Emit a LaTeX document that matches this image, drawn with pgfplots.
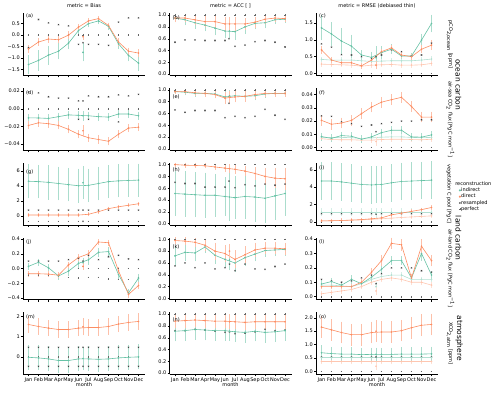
\documentclass[border=0pt]{standalone}
\usepackage{pgfplots}
\pgfplotsset{compat=1.18}
\usepgfplotslibrary{groupplots}
\usetikzlibrary{calc}
\usepackage{fontspec}
\setmainfont{DejaVu Sans}
\newcommand\sm{\fontsize{5}{6}\selectfont}
\definecolor{cind}{HTML}{66C2A5}
\definecolor{cdir}{HTML}{FC8D62}

% one series = wide pale error bars + thin line with dots
\newcommand\ser[4]{%
  \addplot[forget plot, only marks, mark=*, mark size=0pt, color=#2, line width=1.7pt,
    error bars/y dir=both, error bars/y explicit,
    error bars/error mark options={mark size=1.4pt}] coordinates {#4};
  \addplot[forget plot, color=#1, line width=0.6pt, mark=*, mark size=0.5pt, #3] coordinates {#4};}
\newcommand\sind[1]{\ser{cind}{cind!55!white}{}{#1}}
\newcommand\sdir[1]{\ser{cdir}{cdir!55!white}{}{#1}}
\newcommand\sindt[1]{\ser{cind!50!white}{cind!28!white}{}{#1}}
\newcommand\sdirt[1]{\ser{cdir!50!white}{cdir!28!white}{}{#1}}
\newcommand\xind[1]{\ser{cind}{cind!55!white}{only marks}{#1}}
\newcommand\xdir[1]{\ser{cdir}{cdir!55!white}{only marks}{#1}}
\newcommand\xindt[1]{\ser{cind!50!white}{cind!28!white}{only marks}{#1}}
\newcommand\xdirt[1]{\ser{cdir!50!white}{cdir!28!white}{only marks}{#1}}

\pgfplotsset{
  every axis/.append style={font=\sm},
  rres/.style={only marks, mark=x, mark size=0.9pt, color=black!75, line width=0.4pt},
  rperf/.style={only marks, mark=+, mark size=0.8pt, color=black!60, line width=0.35pt},
  acc/.style={ymin=-0.02, ymax=1.03, ytick={0,0.2,0.4,0.6,0.8,1},
    yticklabels={0.0,0.2,0.4,0.6,0.8,1.0}},
}

\begin{document}
\begin{tikzpicture}
\begin{groupplot}[
  group style={group size=3 by 5, horizontal sep=24.5pt, vertical sep=12.75pt,
    xticklabels at=edge bottom, xlabels at=edge bottom},
  width=122pt, height=62pt, scale only axis,
  xmin=0.45, xmax=12.65,
  xtick={1,...,12}, xticklabels={Jan,Feb,Mar,Apr,May,Jun,Jul,Aug,Sep,Oct,Nov,Dec},
  xlabel={month},
  scaled ticks=false,
  axis x line*=bottom, axis y line*=left,
  axis line style={line width=0.45pt, -},
  tick align=outside, major tick length=2pt, tick style={line width=0.4pt, black},
  tick label style={font=\sm},
  /pgf/number format/assume math mode=true,
  xticklabel style={inner sep=1pt}, yticklabel style={inner sep=1pt},
  xlabel style={font=\sm, inner sep=0pt, yshift=1pt},
  title style={font=\sm, yshift=-4pt},
  clip=false,
]
% ---------- row 1: pCO2 ocean
\nextgroupplot[title={metric = Bias}, ymin=-1.75, ymax=0.95,
  ytick={-1.5,-1,-0.5,0,0.5}, yticklabels={−1.5,−1.0,−0.5,0.0,0.5}]
\addplot[rperf] coordinates {(1,0)(2,0)(3,0)(4,0)(5,0)(6,0)(6.45,0)(7,0)(8,0)(9,0)(10,0)(11,0)(12,0)};
\addplot[rres] coordinates {(1,-0.55)(2,0.68)(3,0.53)(4,0.46)(5,0.4)(6,-0.4)(6.45,-0.33)(7,-0.4)(8,-0.4)(9,-0.45)(10,0.57)(11,0.75)(12,0.75)};
\sind{(1,-1.28)+-(0,0.35) (2,-1.1)+-(0,0.38) (3,-0.87)+-(0,0.35) (4,-0.7)+-(0,0.3) (5,-0.35)+-(0,0.2) (6,0.2)+-(0,0.15) (7,0.5)+-(0,0.1) (8,0.62)+-(0,0.08) (9,0.38)+-(0,0.08) (10,-0.38)+-(0,0.15) (11,-0.88)+-(0,0.2) (12,-1.22)+-(0,0.3)}
\xind{(6.45,-0.75)+-(0,0.33)}
\sdir{(1,-0.6)+-(0,0.1) (2,-0.3)+-(0,0.1) (3,-0.17)+-(0,0.1) (4,-0.2)+-(0,0.1) (5,0.0)+-(0,0.1) (6,0.35)+-(0,0.08) (7,0.62)+-(0,0.06) (8,0.72)+-(0,0.06) (9,0.42)+-(0,0.06) (10,-0.3)+-(0,0.1) (11,-0.7)+-(0,0.1) (12,-0.78)+-(0,0.1)}
\xdir{(6.45,-0.07)+-(0,0.08)}
\node[anchor=north west, inner sep=0.5pt] at (rel axis cs:0.02,1) {(a)};

\nextgroupplot[title={metric = ACC [ ]}, acc]
\addplot[rperf] coordinates {(1,1)(2,1)(3,1)(4,1)(5,1)(6,1)(7,1)(8,1)(9,1)(10,1)(11,1)(12,1)};
\addplot[rres] coordinates {(1,0.54)(2,0.58)(3,0.58)(4,0.57)(5,0.57)(6,0.57)(6.4,0.6)(7,0.47)(8,0.49)(9,0.55)(10,0.57)(11,0.54)(12,0.46)};
\sind{(1,0.95)+-(0,0.05) (2,0.92)+-(0,0.07) (3,0.87)+-(0,0.08) (4,0.83)+-(0,0.08) (5,0.78)+-(0,0.1) (6,0.73)+-(0,0.1) (7,0.72)+-(0,0.12) (8,0.8)+-(0,0.1) (9,0.86)+-(0,0.08) (10,0.87)+-(0,0.07) (11,0.92)+-(0,0.05) (12,0.93)+-(0,0.04)}
\xind{(6.45,0.73)+-(0,0.1)}
\sdir{(1,0.95)+-(0,0.04) (2,0.95)+-(0,0.05) (3,0.92)+-(0,0.06) (4,0.89)+-(0,0.07) (5,0.89)+-(0,0.08) (6,0.85)+-(0,0.1) (7,0.85)+-(0,0.1) (8,0.85)+-(0,0.08) (9,0.88)+-(0,0.07) (10,0.93)+-(0,0.05) (11,0.95)+-(0,0.04) (12,0.94)+-(0,0.03)}
\xdir{(6.45,0.85)+-(0,0.09)}
\node[anchor=north west, inner sep=0.5pt] at (rel axis cs:0.02,0.97) {(b)};

\nextgroupplot[title={metric = RMSE (debiased thin)}, ymin=-0.05, ymax=1.78,
  ytick={0,0.5,1,1.5}, yticklabels={0.0,0.5,1.0,1.5}]
\addplot[rperf] coordinates {(1,0)(2,0)(3,0)(4,0)(5,0)(6,0)(7,0)(8,0)(9,0)(10,0)(11,0)(12,0)};
\addplot[rres] coordinates {(1,0.88)(2,0.78)(3,0.56)(4,0.55)(5,0.5)(6,0.45)(6.45,0.5)(7,0.55)(8,0.7)(9,0.65)(10,0.52)(11,0.55)(12,0.9)};
\sindt{(1,0.42)+-(0,0.04) (2,0.4)+-(0,0.04) (3,0.4)+-(0,0.04) (4,0.4)+-(0,0.04) (5,0.38)+-(0,0.04) (6,0.36)+-(0,0.04) (7,0.37)+-(0,0.04) (8,0.38)+-(0,0.04) (9,0.38)+-(0,0.04) (10,0.38)+-(0,0.04) (11,0.4)+-(0,0.04) (12,0.43)+-(0,0.04)}
\sdirt{(1,0.28)+-(0,0.03) (2,0.27)+-(0,0.03) (3,0.26)+-(0,0.03) (4,0.25)+-(0,0.03) (5,0.22)+-(0,0.03) (6,0.25)+-(0,0.03) (7,0.26)+-(0,0.03) (8,0.27)+-(0,0.03) (9,0.25)+-(0,0.03) (10,0.25)+-(0,0.03) (11,0.26)+-(0,0.03) (12,0.3)+-(0,0.03)}
\sind{(1,1.35)+-(0,0.33) (2,1.17)+-(0,0.3) (3,0.96)+-(0,0.35) (4,0.81)+-(0,0.3) (5,0.55)+-(0,0.1) (6,0.48)+-(0,0.12) (7,0.62)+-(0,0.15) (8,0.72)+-(0,0.1) (9,0.52)+-(0,0.05) (10,0.52)+-(0,0.05) (11,0.99)+-(0,0.15) (12,1.48)+-(0,0.22)}
\xind{(6.45,0.47)+-(0,0.3)}
\sdir{(1,0.7)+-(0,0.08) (2,0.4)+-(0,0.05) (3,0.32)+-(0,0.04) (4,0.32)+-(0,0.04) (5,0.23)+-(0,0.04) (6,0.4)+-(0,0.05) (7,0.65)+-(0,0.05) (8,0.76)+-(0,0.05) (9,0.55)+-(0,0.05) (10,0.5)+-(0,0.05) (11,0.72)+-(0,0.07) (12,0.84)+-(0,0.1)}
\xdir{(6.45,0.25)+-(0,0.07)}
\node[anchor=north west, inner sep=0.5pt] at (rel axis cs:0.02,1) {(c)};
\node[rotate=-90, anchor=south] at ([xshift=5pt]rel axis cs:1,0.5) {pCO\textsubscript{2,ocean} [ppm]};

% ---------- row 2: air-sea flux
\nextgroupplot[ymin=-0.047, ymax=0.0235,
  ytick={-0.04,-0.02,0,0.02}, yticklabels={−0.04,−0.02,0.00,0.02}]
\addplot[rperf] coordinates {(1,0)(2,0)(3,0)(4,0)(5,0)(6,0)(7,0)(8,0)(9,0)(10,0)(11,0)(12,0)};
\addplot[rres] coordinates {(1,0.019)(2,0.018)(3,0.0136)(4,0.012)(5,0.012)(6,0.009)(6.45,0.009)(7,0.0146)(8,0.0136)(9,0.0136)(10,0.0157)(11,0.0146)(12,0.0164)(6,-0.012)(7,-0.012)(10,-0.015)};
\sind{(1,-0.0104)+-(0,0.003) (2,-0.0105)+-(0,0.003) (3,-0.011)+-(0,0.003) (4,-0.009)+-(0,0.003) (5,-0.007)+-(0,0.003) (6,-0.0075)+-(0,0.003) (7,-0.008)+-(0,0.003) (8,-0.009)+-(0,0.003) (9,-0.0095)+-(0,0.003) (10,-0.006)+-(0,0.003) (11,-0.006)+-(0,0.003) (12,-0.008)+-(0,0.003)}
\xind{(6.45,-0.008)+-(0,0.004)}
\sdir{(1,-0.019)+-(0,0.003) (2,-0.016)+-(0,0.003) (3,-0.017)+-(0,0.003) (4,-0.019)+-(0,0.003) (5,-0.0235)+-(0,0.003) (6,-0.029)+-(0,0.003) (7,-0.033)+-(0,0.003) (8,-0.035)+-(0,0.003) (9,-0.037)+-(0,0.003) (10,-0.029)+-(0,0.003) (11,-0.022)+-(0,0.003) (12,-0.021)+-(0,0.003)}
\xdir{(6.45,-0.025)+-(0,0.005)}
\node[anchor=north west, inner sep=0.5pt] at (rel axis cs:0.02,0.97) {(d)};

\nextgroupplot[acc]
\addplot[rperf] coordinates {(1,1)(2,1)(3,1)(4,1)(5,1)(6,1)(7,1)(8,1)(9,1)(10,1)(11,1)(12,1)};
\addplot[rres] coordinates {(1,0.66)(2,0.62)(3,0.65)(4,0.65)(5,0.65)(6,0.53)(6.4,0.77)(7,0.55)(8,0.53)(9,0.55)(10,0.67)(11,0.57)(12,0.5)};
\sind{(1,0.97)+-(0,0.02) (2,0.96)+-(0,0.03) (3,0.94)+-(0,0.03) (4,0.94)+-(0,0.03) (5,0.93)+-(0,0.04) (6,0.88)+-(0,0.07) (7,0.9)+-(0,0.06) (8,0.89)+-(0,0.06) (9,0.9)+-(0,0.05) (10,0.93)+-(0,0.04) (11,0.94)+-(0,0.03) (12,0.94)+-(0,0.03)}
\xind{(6.45,0.9)+-(0,0.07)}
\sdir{(1,0.97)+-(0,0.02) (2,0.97)+-(0,0.02) (3,0.95)+-(0,0.03) (4,0.94)+-(0,0.03) (5,0.92)+-(0,0.04) (6,0.86)+-(0,0.08) (7,0.88)+-(0,0.07) (8,0.89)+-(0,0.07) (9,0.92)+-(0,0.05) (10,0.94)+-(0,0.04) (11,0.94)+-(0,0.03) (12,0.94)+-(0,0.03)}
\xdir{(6.45,0.88)+-(0,0.08)}
\node[anchor=north west, inner sep=0.5pt] at (rel axis cs:0.02,0.9) {(e)};

\nextgroupplot[ymin=-0.002, ymax=0.045,
  ytick={0,0.01,0.02,0.03,0.04}, yticklabels={0.00,0.01,0.02,0.03,0.04}]
\addplot[rperf] coordinates {(1,0)(2,0)(3,0)(4,0)(5,0)(6,0)(7,0)(8,0)(9,0)(10,0)(11,0)(12,0)};
\addplot[rres] coordinates {(1,0.0239)(2,0.0236)(3,0.0194)(4,0.018)(5,0.016)(6,0.017)(6.45,0.012)(7,0.018)(8,0.019)(9,0.02)(10,0.02)(11,0.021)(12,0.021)};
\sindt{(1,0.0078)+-(0,0.0015) (2,0.0075)+-(0,0.0015) (3,0.0076)+-(0,0.0015) (4,0.0074)+-(0,0.0015) (5,0.0068)+-(0,0.0015) (6,0.0072)+-(0,0.0015) (7,0.0078)+-(0,0.0015) (8,0.008)+-(0,0.0015) (9,0.008)+-(0,0.0015) (10,0.0076)+-(0,0.0015) (11,0.0074)+-(0,0.0015) (12,0.0076)+-(0,0.0015)}
\sdirt{(1,0.0066)+-(0,0.001) (2,0.006)+-(0,0.001) (3,0.0058)+-(0,0.001) (4,0.0058)+-(0,0.001) (5,0.0055)+-(0,0.001) (6,0.0055)+-(0,0.001) (7,0.006)+-(0,0.001) (8,0.0062)+-(0,0.001) (9,0.0062)+-(0,0.001) (10,0.006)+-(0,0.001) (11,0.0058)+-(0,0.001) (12,0.0062)+-(0,0.001)}
\xdirt{(6.45,0.0045)+-(0,0.002)}
\sind{(1,0.0082)+-(0,0.002) (2,0.0069)+-(0,0.002) (3,0.009)+-(0,0.002) (4,0.0085)+-(0,0.002) (5,0.0062)+-(0,0.002) (6,0.008)+-(0,0.002) (7,0.0112)+-(0,0.002) (8,0.013)+-(0,0.002) (9,0.013)+-(0,0.002) (10,0.008)+-(0,0.002) (11,0.0078)+-(0,0.002) (12,0.0095)+-(0,0.002)}
\sdir{(1,0.0205)+-(0,0.003) (2,0.0176)+-(0,0.003) (3,0.0185)+-(0,0.003) (4,0.0205)+-(0,0.003) (5,0.0256)+-(0,0.003) (6,0.0306)+-(0,0.003) (7,0.0343)+-(0,0.003) (8,0.0362)+-(0,0.003) (9,0.038)+-(0,0.003) (10,0.031)+-(0,0.003) (11,0.023)+-(0,0.003) (12,0.023)+-(0,0.003)}
\node[anchor=north west, inner sep=0.5pt] at (rel axis cs:0.02,0.97) {(f)};
\node[rotate=-90, anchor=south] at ([xshift=5pt]rel axis cs:1,0.5) {air-sea CO\textsubscript{2} flux [PgC mon\textsuperscript{−1}]};

% ---------- row 3: vegetation C pool
\nextgroupplot[ymin=-1.2, ymax=7.05, ytick={0,2,4,6}, yticklabels={0,2,4,6}]
\addplot[rperf] coordinates {(1,-0.75)(2,-0.75)(3,-0.75)(4,-0.75)(5,-0.75)(6,-0.75)(7,-0.75)(8,-0.75)(9,-0.75)(10,-0.75)(11,-0.75)(12,-0.75)};
\addplot[rres] coordinates {(1,0.75)(2,0.75)(3,0.75)(4,0.75)(5,0.75)(6,0.75)(6.45,0.75)(6.45,-0.75)(7,0.75)(8,0.75)(9,0.75)(10,0.75)(11,0.75)(12,0.75)};
\sind{(1,4.6)+-(0,2.1) (2,4.55)+-(0,2.05) (3,4.45)+-(0,2.1) (4,4.3)+-(0,2.05) (5,4.15)+-(0,2.05) (6,4.0)+-(0,2.1) (7,4.05)+-(0,2.05) (8,4.3)+-(0,2.05) (9,4.55)+-(0,2.0) (10,4.65)+-(0,2.0) (11,4.7)+-(0,2.0) (12,4.75)+-(0,2.0)}
\xind{(6.45,4.4)+-(0,2.0)}
\sdir{(1,0.1)+-(0,0.08) (2,0.1)+-(0,0.08) (3,0.1)+-(0,0.08) (4,0.1)+-(0,0.08) (5,0.1)+-(0,0.08) (6,0.1)+-(0,0.08) (7,0.2)+-(0,0.08) (8,0.55)+-(0,0.08) (9,0.95)+-(0,0.08) (10,1.2)+-(0,0.08) (11,1.4)+-(0,0.08) (12,1.6)+-(0,0.08)}
\node[anchor=north west, inner sep=0.5pt] at (rel axis cs:0.02,0.9) {(g)};

\nextgroupplot[acc]
\addplot[rperf] coordinates {(1,1)(2,1)(3,1)(4,1)(5,1)(6,1)(7,1)(8,1)(9,1)(10,1)(11,1)(12,1)};
\addplot[rres] coordinates {(1,0.7)(2,0.68)(3,0.68)(4,0.62)(5,0.62)(6,0.62)(6.4,0.72)(7,0.61)(8,0.66)(9,0.64)(10,0.67)(11,0.65)(12,0.67)};
\sind{(1,0.51)+-(0,0.36) (2,0.5)+-(0,0.36) (3,0.49)+-(0,0.36) (4,0.48)+-(0,0.36) (5,0.48)+-(0,0.34) (6,0.46)+-(0,0.3) (7,0.44)+-(0,0.34) (8,0.46)+-(0,0.36) (9,0.45)+-(0,0.4) (10,0.43)+-(0,0.4) (11,0.47)+-(0,0.38) (12,0.51)+-(0,0.35)}
\xind{(6.45,0.45)+-(0,0.38)}
\sdir{(1,1.0)+-(0,0.01) (2,0.99)+-(0,0.02) (3,0.985)+-(0,0.02) (4,0.98)+-(0,0.02) (5,0.96)+-(0,0.03) (6,0.94)+-(0,0.04) (7,0.92)+-(0,0.05) (8,0.89)+-(0,0.06) (9,0.85)+-(0,0.08) (10,0.8)+-(0,0.12) (11,0.77)+-(0,0.15) (12,0.76)+-(0,0.16)}
\xdir{(6.45,0.93)+-(0,0.05)}
\node[anchor=north west, inner sep=0.5pt] at (rel axis cs:0.02,0.93) {(h)};

\nextgroupplot[ymin=-0.35, ymax=6.8, ytick={0,2,4,6}, yticklabels={0,2,4,6},
  legend style={at={(rel axis cs:1.17,0.61)}, anchor=north west, draw=none, fill=none,
    font=\sm, inner sep=0pt, row sep=0pt, nodes={inner sep=0.5pt},
    /tikz/every even column/.append style={column sep=1.5pt}},
  legend cell align=left,
  legend image code/.code={\draw[#1] plot coordinates {(0.05cm,0cm)};}]
\addlegendimage{only marks, mark=*, mark size=0.8pt, color=cind}\addlegendentry{indirect}
\addlegendimage{only marks, mark=*, mark size=0.8pt, color=cdir}\addlegendentry{direct}
\addlegendimage{only marks, mark=x, mark size=1.0pt, color=black!75}\addlegendentry{resampled}
\addlegendimage{only marks, mark=+, mark size=0.9pt, color=black!60}\addlegendentry{perfect}
\addplot[rperf] coordinates {(1,0)(2,0)(3,0)(4,0)(5,0)(6,0)(7,0)(8,0)(9,0)(10,0)(11,0)(12,0)};
\addplot[rres] coordinates {(1,0.95)(2,0.95)(3,0.95)(4,0.95)(5,0.95)(6,0.95)(6.45,0.9)(7,0.95)(8,0.95)(9,0.95)(10,0.95)(11,0.95)(12,0.95)};
\sindt{(1,1.1)+-(0,0.3) (2,1.1)+-(0,0.3) (3,1.1)+-(0,0.3) (4,1.1)+-(0,0.3) (5,1.1)+-(0,0.3) (6,1.1)+-(0,0.3) (7,1.1)+-(0,0.3) (8,1.1)+-(0,0.3) (9,1.1)+-(0,0.3) (10,1.1)+-(0,0.3) (11,1.1)+-(0,0.3) (12,1.1)+-(0,0.3)}
\xindt{(6.45,1.0)+-(0,0.4)}
\sdirt{(1,0.1)+-(0,0.05) (2,0.12)+-(0,0.05) (3,0.15)+-(0,0.05) (4,0.18)+-(0,0.05) (5,0.22)+-(0,0.05) (6,0.28)+-(0,0.05) (7,0.35)+-(0,0.05) (8,0.42)+-(0,0.05) (9,0.5)+-(0,0.05) (10,0.56)+-(0,0.05) (11,0.62)+-(0,0.05) (12,0.68)+-(0,0.05)}
\sind{(1,4.7)+-(0,2.0) (2,4.7)+-(0,2.0) (3,4.6)+-(0,2.0) (4,4.45)+-(0,2.0) (5,4.3)+-(0,2.0) (6,4.25)+-(0,2.0) (7,4.3)+-(0,2.0) (8,4.5)+-(0,2.0) (9,4.65)+-(0,2.0) (10,4.7)+-(0,2.0) (11,4.75)+-(0,2.0) (12,4.8)+-(0,2.0)}
\xind{(6.45,4.3)+-(0,2.0)}
\sdir{(1,0.1)+-(0,0.08) (2,0.12)+-(0,0.08) (3,0.15)+-(0,0.08) (4,0.2)+-(0,0.08) (5,0.25)+-(0,0.08) (6,0.35)+-(0,0.08) (7,0.45)+-(0,0.08) (8,0.8)+-(0,0.08) (9,1.0)+-(0,0.08) (10,1.2)+-(0,0.08) (11,1.4)+-(0,0.08) (12,1.65)+-(0,0.08)}
\node[anchor=north west, inner sep=0.5pt] at (rel axis cs:0.02,0.97) {(i)};
\node[rotate=-90, anchor=south] at ([xshift=5pt]rel axis cs:1,0.5) {vegetation C pool [PgC]};
\node[anchor=west, inner sep=0pt] at (rel axis cs:1.14,0.66) {reconstruction};

% ---------- row 4: air-land flux
\nextgroupplot[ymin=-0.42, ymax=0.42, ytick={-0.4,-0.2,0,0.2,0.4},
  yticklabels={−0.4,−0.2,0.0,0.2,0.4}]
\addplot[rperf] coordinates {(1,-0.09)(2,-0.09)(3,-0.09)(4,-0.1)(5,-0.12)(6,-0.13)(7,-0.12)(8,-0.12)(9,-0.14)(10,-0.15)(11,-0.15)(12,-0.12)(6,0)(7,0)(8,0)(9,0)(10,0)(11,0)(12,0)};
\addplot[rres] coordinates {(1,0.1)(2,0.1)(3,0.1)(4,0.1)(5,0.12)(6,0.14)(6.45,0.1)(7,0.18)(8,0.12)(9,0.16)(10,0.18)(11,0.13)(12,0.12)};
\sind{(1,0.03)+-(0,0.03) (2,0.085)+-(0,0.03) (3,0.01)+-(0,0.03) (4,-0.1)+-(0,0.03) (5,-0.035)+-(0,0.04) (6,0.07)+-(0,0.04) (7,0.12)+-(0,0.05) (8,0.22)+-(0,0.04) (9,0.23)+-(0,0.04) (10,-0.08)+-(0,0.04) (11,-0.33)+-(0,0.03) (12,-0.13)+-(0,0.04)}
\xind{(6.45,0.08)+-(0,0.05)}
\sdir{(1,-0.07)+-(0,0.02) (2,-0.07)+-(0,0.02) (3,-0.075)+-(0,0.02) (4,-0.09)+-(0,0.02) (5,0.05)+-(0,0.02) (6,0.15)+-(0,0.03) (7,0.2)+-(0,0.03) (8,0.36)+-(0,0.02) (9,0.35)+-(0,0.02) (10,-0.03)+-(0,0.03) (11,-0.35)+-(0,0.03) (12,-0.23)+-(0,0.03)}
\xdir{(6.45,0.03)+-(0,0.03)}
\node[anchor=north west, inner sep=0.5pt] at (rel axis cs:0.02,0.97) {(j)};

\nextgroupplot[acc]
\addplot[rperf] coordinates {(1,1)(2,1)(3,1)(4,1)(5,1)(6,1)(7,1)(8,1)(9,1)(10,1)(11,1)(12,1)};
\addplot[rres] coordinates {(1,0.55)(2,0.6)(3,0.52)(4,0.6)(5,0.5)(6,0.52)(6.45,0.58)(7,0.47)(8,0.58)(9,0.5)(10,0.49)(11,0.54)(12,0.58)};
\sind{(1,0.72)+-(0,0.15) (2,0.78)+-(0,0.12) (3,0.77)+-(0,0.12) (4,0.87)+-(0,0.08) (5,0.73)+-(0,0.12) (6,0.66)+-(0,0.12) (7,0.6)+-(0,0.13) (8,0.69)+-(0,0.12) (9,0.75)+-(0,0.1) (10,0.81)+-(0,0.08) (11,0.82)+-(0,0.08) (12,0.83)+-(0,0.08)}
\xind{(6.45,0.65)+-(0,0.15)}
\sdir{(1,0.98)+-(0,0.03) (2,0.97)+-(0,0.04) (3,0.95)+-(0,0.05) (4,0.9)+-(0,0.08) (5,0.8)+-(0,0.12) (6,0.76)+-(0,0.12) (7,0.66)+-(0,0.13) (8,0.74)+-(0,0.12) (9,0.82)+-(0,0.1) (10,0.85)+-(0,0.08) (11,0.85)+-(0,0.08) (12,0.84)+-(0,0.08)}
\xdir{(6.45,0.8)+-(0,0.1)}
\node[anchor=north west, inner sep=0.5pt] at (rel axis cs:0.02,0.9) {(k)};

\nextgroupplot[ymin=-0.02, ymax=0.41, ytick={0,0.1,0.2,0.3,0.4},
  yticklabels={0.0,0.1,0.2,0.3,0.4}]
\addplot[rperf] coordinates {(1,0)(2,0)(3,0)(4,0)(5,0)(6,0)(7,0)(8,0)(9,0)(10,0)(11,0)(12,0)};
\addplot[rres] coordinates {(1,0.12)(2,0.11)(3,0.1)(4,0.11)(5,0.13)(6,0.15)(6.45,0.09)(7,0.16)(8,0.2)(9,0.2)(10,0.2)(11,0.18)(12,0.17)};
\sindt{(1,0.08)+-(0,0.01) (2,0.08)+-(0,0.01) (3,0.075)+-(0,0.01) (4,0.07)+-(0,0.01) (5,0.09)+-(0,0.01) (6,0.12)+-(0,0.01) (7,0.14)+-(0,0.01) (8,0.15)+-(0,0.01) (9,0.15)+-(0,0.01) (10,0.12)+-(0,0.01) (11,0.12)+-(0,0.01) (12,0.12)+-(0,0.01)}
\xindt{(6.45,0.07)+-(0,0.02)}
\sdirt{(1,0.02)+-(0,0.01) (2,0.03)+-(0,0.01) (3,0.04)+-(0,0.01) (4,0.05)+-(0,0.01) (5,0.07)+-(0,0.01) (6,0.1)+-(0,0.01) (7,0.12)+-(0,0.01) (8,0.13)+-(0,0.01) (9,0.12)+-(0,0.01) (10,0.1)+-(0,0.01) (11,0.1)+-(0,0.01) (12,0.08)+-(0,0.01)}
\xdirt{(6.45,0.04)+-(0,0.02)}
\sind{(1,0.088)+-(0,0.015) (2,0.105)+-(0,0.015) (3,0.08)+-(0,0.015) (4,0.12)+-(0,0.02) (5,0.09)+-(0,0.015) (6,0.135)+-(0,0.02) (7,0.19)+-(0,0.025) (8,0.25)+-(0,0.02) (9,0.25)+-(0,0.02) (10,0.13)+-(0,0.02) (11,0.3)+-(0,0.04) (12,0.15)+-(0,0.02)}
\sdir{(1,0.07)+-(0,0.01) (2,0.07)+-(0,0.01) (3,0.07)+-(0,0.01) (4,0.07)+-(0,0.01) (5,0.1)+-(0,0.015) (6,0.17)+-(0,0.02) (7,0.25)+-(0,0.03) (8,0.37)+-(0,0.03) (9,0.36)+-(0,0.03) (10,0.13)+-(0,0.02) (11,0.35)+-(0,0.04) (12,0.25)+-(0,0.03)}
\node[anchor=north west, inner sep=0.5pt] at (rel axis cs:0.02,0.97) {(l)};
\node[rotate=-90, anchor=south] at ([xshift=5pt]rel axis cs:1,0.5) {air-land CO\textsubscript{2} flux [PgC mon\textsuperscript{−1}]};

% ---------- row 5: XCO2
\nextgroupplot[ymin=-0.86, ymax=2.2, ytick={0,1,2}, yticklabels={0,1,2}]
\addplot[rperf] coordinates {(1,0)(2,0)(3,0)(4,0)(5,0)(6,0)(7,0)(8,0)(9,0)(10,0)(11,0)(12,0)};
\addplot[rres] coordinates {(1,0.47)(2,0.47)(3,0.47)(4,0.47)(5,0.47)(6,0.47)(6.45,0.47)(7,0.47)(8,0.47)(9,0.47)(10,0.47)(11,0.47)(12,0.47)(1,-0.47)(2,-0.47)(3,-0.47)(4,-0.47)(5,-0.47)(6,-0.47)(6.45,-0.47)(7,-0.47)(8,-0.47)(9,-0.47)(10,-0.47)(11,-0.47)(12,-0.47)};
\sind{(1,-0.02)+-(0,0.55) (2,-0.05)+-(0,0.55) (3,-0.1)+-(0,0.55) (4,-0.18)+-(0,0.55) (5,-0.18)+-(0,0.55) (6,-0.1)+-(0,0.55) (7,-0.1)+-(0,0.55) (8,-0.12)+-(0,0.55) (9,-0.1)+-(0,0.55) (10,-0.05)+-(0,0.55) (11,-0.02)+-(0,0.55) (12,0.0)+-(0,0.55)}
\xind{(6.45,-0.08)+-(0,0.5)}
\sdir{(1,1.6)+-(0,0.33) (2,1.5)+-(0,0.33) (3,1.42)+-(0,0.33) (4,1.35)+-(0,0.33) (5,1.35)+-(0,0.33) (6,1.42)+-(0,0.33) (7,1.45)+-(0,0.33) (8,1.45)+-(0,0.33) (9,1.5)+-(0,0.33) (10,1.62)+-(0,0.33) (11,1.7)+-(0,0.33) (12,1.75)+-(0,0.33)}
\xdir{(6.45,1.48)+-(0,0.35)}
\node[anchor=north west, inner sep=0.5pt] at (rel axis cs:0.02,0.97) {(m)};

\nextgroupplot[acc]
\addplot[rperf] coordinates {(1,1)(2,1)(3,1)(4,1)(5,1)(6,1)(7,1)(8,1)(9,1)(10,1)(11,1)(12,1)};
\addplot[rres] coordinates {(1,0.72)(2,0.72)(3,0.74)(4,0.73)(5,0.71)(6,0.69)(6.45,0.7)(7,0.67)(8,0.68)(9,0.7)(10,0.74)(11,0.72)(12,0.73)};
\sind{(1,0.71)+-(0,0.15) (2,0.72)+-(0,0.15) (3,0.74)+-(0,0.15) (4,0.73)+-(0,0.15) (5,0.72)+-(0,0.15) (6,0.72)+-(0,0.15) (7,0.7)+-(0,0.15) (8,0.69)+-(0,0.15) (9,0.71)+-(0,0.15) (10,0.69)+-(0,0.15) (11,0.7)+-(0,0.15) (12,0.72)+-(0,0.15)}
\xind{(6.45,0.71)+-(0,0.14)}
\sdir{(1,0.88)+-(0,0.1) (2,0.89)+-(0,0.1) (3,0.9)+-(0,0.1) (4,0.89)+-(0,0.1) (5,0.88)+-(0,0.1) (6,0.88)+-(0,0.1) (7,0.87)+-(0,0.1) (8,0.86)+-(0,0.1) (9,0.87)+-(0,0.1) (10,0.87)+-(0,0.1) (11,0.87)+-(0,0.1) (12,0.87)+-(0,0.1)}
\xdir{(6.45,0.87)+-(0,0.1)}
\node[anchor=north west, inner sep=0.5pt] at (rel axis cs:0.02,0.93) {(n)};

\nextgroupplot[ymin=-0.1, ymax=2.2, ytick={0,0.5,1,1.5,2},
  yticklabels={0.0,0.5,1.0,1.5,2.0}]
\addplot[rperf] coordinates {(1,0)(2,0)(3,0)(4,0)(5,0)(6,0)(7,0)(8,0)(9,0)(10,0)(11,0)(12,0)};
\addplot[rres] coordinates {(1,0.55)(2,0.55)(3,0.55)(4,0.55)(5,0.55)(6,0.55)(6.45,0.55)(7,0.55)(8,0.55)(9,0.55)(10,0.55)(11,0.55)(12,0.55)};
\sindt{(1,0.52)+-(0,0.08) (2,0.52)+-(0,0.08) (3,0.52)+-(0,0.08) (4,0.52)+-(0,0.08) (5,0.52)+-(0,0.08) (6,0.52)+-(0,0.08) (7,0.52)+-(0,0.08) (8,0.52)+-(0,0.08) (9,0.52)+-(0,0.08) (10,0.52)+-(0,0.08) (11,0.52)+-(0,0.08) (12,0.52)+-(0,0.08)}
\sdirt{(1,0.38)+-(0,0.06) (2,0.38)+-(0,0.06) (3,0.38)+-(0,0.06) (4,0.38)+-(0,0.06) (5,0.38)+-(0,0.06) (6,0.38)+-(0,0.06) (7,0.38)+-(0,0.06) (8,0.38)+-(0,0.06) (9,0.38)+-(0,0.06) (10,0.38)+-(0,0.06) (11,0.38)+-(0,0.06) (12,0.38)+-(0,0.06)}
\xdirt{(6.45,0.2)+-(0,0.1)}
\sind{(1,0.7)+-(0,0.22) (2,0.67)+-(0,0.2) (3,0.65)+-(0,0.2) (4,0.65)+-(0,0.2) (5,0.63)+-(0,0.2) (6,0.64)+-(0,0.2) (7,0.64)+-(0,0.2) (8,0.64)+-(0,0.2) (9,0.65)+-(0,0.2) (10,0.65)+-(0,0.2) (11,0.65)+-(0,0.2) (12,0.66)+-(0,0.22)}
\xind{(6.45,0.64)+-(0,0.2)}
\sdir{(1,1.65)+-(0,0.35) (2,1.55)+-(0,0.35) (3,1.45)+-(0,0.35) (4,1.37)+-(0,0.35) (5,1.37)+-(0,0.35) (6,1.45)+-(0,0.35) (7,1.47)+-(0,0.35) (8,1.47)+-(0,0.35) (9,1.52)+-(0,0.35) (10,1.63)+-(0,0.35) (11,1.72)+-(0,0.35) (12,1.75)+-(0,0.35)}
\xdir{(6.45,1.5)+-(0,0.35)}
\node[anchor=north west, inner sep=0.5pt] at (rel axis cs:0.02,0.97) {(o)};
\node[rotate=-90, anchor=south] at ([xshift=5pt]rel axis cs:1,0.5) {XCO\textsubscript{2,atm} [ppm]};
\end{groupplot}

\node[rotate=-90, anchor=south, font=\fontsize{7.5}{9}\selectfont]
  at ($(group c3r1.south east)!0.5!(group c3r2.north east)+(14pt,-3pt)$) {ocean carbon};
\node[rotate=-90, anchor=south, font=\fontsize{7.5}{9}\selectfont]
  at ($(group c3r3.south east)!0.5!(group c3r4.north east)+(14pt,-7pt)$) {land carbon};
\node[rotate=-90, anchor=south, font=\fontsize{7.5}{9}\selectfont]
  at ($(group c3r5.east)+(14pt,5pt)$) {atmosphere};
\path ($(group c1r1.north west)+(-23pt,10pt)$) rectangle ($(group c3r5.south east)+(62pt,-18pt)$);
\end{tikzpicture}
\end{document}
